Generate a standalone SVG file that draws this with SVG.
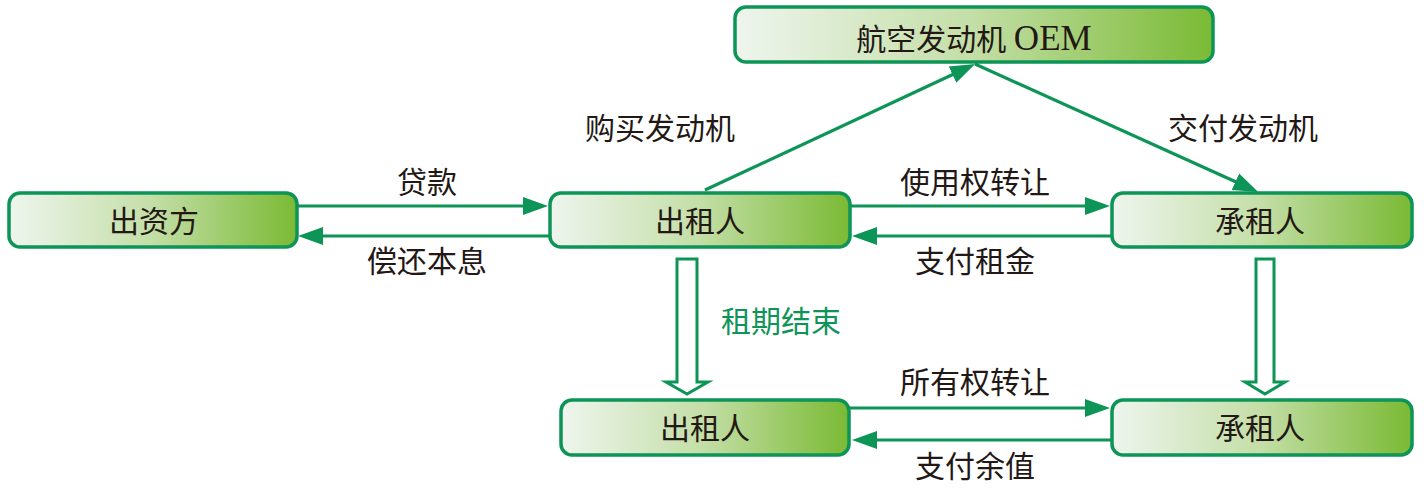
<svg xmlns="http://www.w3.org/2000/svg" width="1424" height="500" viewBox="0 0 1424 500">
<defs>
<linearGradient id="g" x1="0" y1="0" x2="1" y2="0">
<stop offset="0" stop-color="#eef5ee"/>
<stop offset="0.5" stop-color="#c3dea6"/>
<stop offset="1" stop-color="#7aba34"/>
</linearGradient>
<marker id="ah" markerUnits="userSpaceOnUse" markerWidth="26" markerHeight="20" viewBox="0 0 26 20" refX="5" refY="10" orient="auto">
<path d="M0,1 L25,10 L0,19 z" fill="#0d9457"/>
</marker>
<style>
.box{fill:url(#g);stroke:#0d9457;stroke-width:3.5}
.t{font-family:"Liberation Serif","Noto Sans CJK SC",serif;font-size:30px;fill:#231815;text-anchor:middle}
.lbl{font-family:"Liberation Serif","Noto Sans CJK SC",serif;font-size:30px;fill:#231815;text-anchor:middle}
.g{fill:#0d9457}
.ln{stroke:#0d9457;stroke-width:3.2;fill:none;marker-end:url(#ah)}
.hollow{fill:#fff;stroke:#0d9457;stroke-width:3}
</style>
</defs>
<rect width="1424" height="500" fill="#fff"/>
<g id="connectors">
<line class="ln" x1="298" y1="206" x2="528" y2="206"/>
<line class="ln" x1="550" y1="236" x2="318" y2="236"/>
<line class="ln" x1="850" y1="206" x2="1090" y2="206"/>
<line class="ln" x1="1112" y1="236" x2="872" y2="236"/>
<line class="ln" x1="849" y1="408" x2="1090" y2="408"/>
<line class="ln" x1="1112" y1="440" x2="872" y2="440"/>
<line class="ln" x1="705" y1="190" x2="957" y2="72.5"/>
<line class="ln" x1="975" y1="64" x2="1240" y2="183.8"/>
<path class="hollow" d="M677,259 L697,259 L697,382 L708,382 L687,394 L666,382 L677,382 Z"/>
<path class="hollow" d="M1256,259 L1274,259 L1274,382 L1285,382 L1265,394 L1245,382 L1256,382 Z"/>
</g>
<g id="labels">
<text class="lbl" x="427" y="193">贷款</text>
<text class="lbl" x="427" y="272">偿还本息</text>
<text class="lbl" x="975" y="193">使用权转让</text>
<text class="lbl" x="975" y="272">支付租金</text>
<text class="lbl" x="975" y="393">所有权转让</text>
<text class="lbl" x="975" y="477">支付余值</text>
<text class="lbl" x="660" y="139">购买发动机</text>
<text class="lbl" x="1243" y="139">交付发动机</text>
<text class="lbl g" x="781" y="332">租期结束</text>
</g>
<g id="funder">
<rect class="box" x="9" y="193" width="288" height="54" rx="11"/>
<text class="t" x="154" y="232">出资方</text>
</g>
<g id="lessor-top">
<rect class="box" x="550" y="193" width="300" height="54" rx="11"/>
<text class="t" x="700" y="232">出租人</text>
</g>
<g id="lessee-top">
<rect class="box" x="1112" y="193" width="300" height="54" rx="11"/>
<text class="t" x="1260" y="232">承租人</text>
</g>
<g id="oem">
<rect class="box" x="735" y="7" width="478" height="55" rx="11"/>
<text class="t" x="974" y="50">航空发动机 <tspan font-size="35">OEM</tspan></text>
</g>
<g id="lessor-bottom">
<rect class="box" x="561" y="400" width="288" height="55" rx="11"/>
<text class="t" x="705" y="439">出租人</text>
</g>
<g id="lessee-bottom">
<rect class="box" x="1112" y="400" width="300" height="55" rx="11"/>
<text class="t" x="1260" y="439">承租人</text>
</g>
</svg>
